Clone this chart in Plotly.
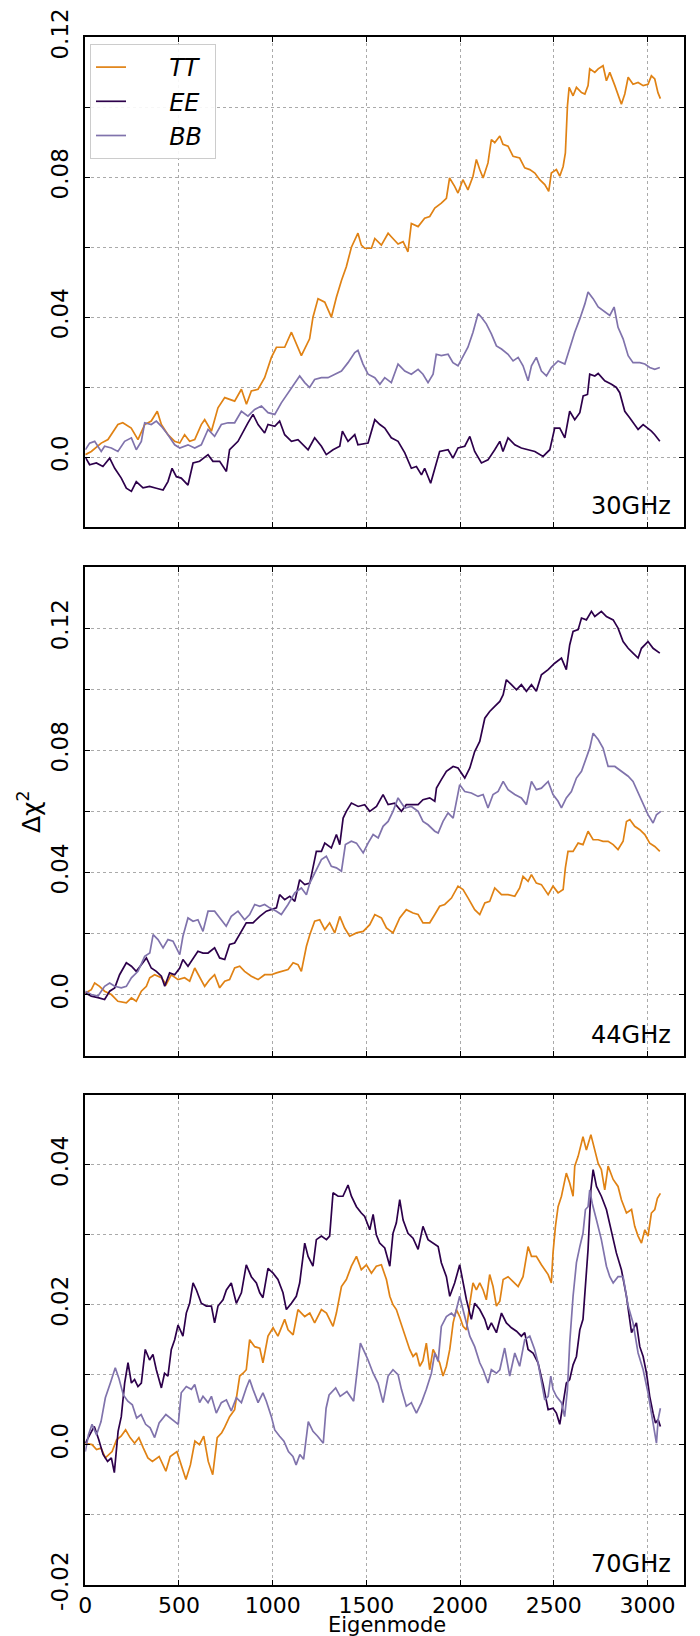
import plotly.graph_objects as go

# ---------------- data ----------------
# 30 GHz
modes_30_tt = [0,32,85,121,174,200,245,281,317,352,384,406,441,477,504,530,557,584,619,637,673,708,744,797,833,860,886,922,957,993,1020,1064,1100,1135,1153,1197,1215,1242,1278,1313,1340,1367,1393,1420,1455,1473,1491,1527,1545,1580,1616,1633,1669,1696,1722,1740,1776,1811,1838,1865,1900,1927,1944,1971,1989,2015,2042,2069,2087,2105,2123,2149,2167,2185,2212,2229,2256,2283,2318,2345,2372,2399,2425,2452,2473,2487,2514,2532,2550,2562,2573,2582,2603,2621,2648,2666,2683,2692,2719,2737,2763,2781,2799,2826,2843,2861,2879,2897,2923,2950,2977,3003,3021,3039,3056,3069]
dchi2_30_tt = [0.0007,0.0016,0.0040,0.0050,0.0093,0.0098,0.0083,0.0050,0.0093,0.0103,0.0131,0.0093,0.0064,0.0045,0.0040,0.0064,0.0045,0.0050,0.0093,0.0107,0.0074,0.0141,0.0170,0.0160,0.0194,0.0151,0.0189,0.0194,0.0227,0.0285,0.0314,0.0314,0.0357,0.0314,0.0290,0.0338,0.0400,0.0453,0.0443,0.0400,0.0457,0.0505,0.0544,0.0600,0.0640,0.0606,0.0597,0.0597,0.0625,0.0606,0.0640,0.0630,0.0609,0.0616,0.0587,0.0668,0.0659,0.0683,0.0688,0.0712,0.0726,0.0740,0.0798,0.0774,0.0755,0.0793,0.0764,0.0803,0.0851,0.0822,0.0798,0.0841,0.0908,0.0899,0.0918,0.0894,0.0889,0.0860,0.0855,0.0827,0.0822,0.0812,0.0793,0.0779,0.0760,0.0812,0.0822,0.0803,0.0831,0.0870,0.1004,0.1057,0.1033,0.1057,0.1042,0.1038,0.1062,0.1110,0.1100,0.1110,0.1119,0.1076,0.1100,0.1062,0.1033,0.1009,0.1038,0.1086,0.1066,0.1071,0.1062,0.1066,0.1090,0.1081,0.1042,0.1025]

modes_30_ee = [0,23,59,94,130,157,192,219,246,272,308,343,379,415,441,463,486,512,548,575,610,655,681,717,753,770,815,842,868,895,922,957,975,1011,1037,1064,1100,1135,1189,1224,1260,1286,1322,1358,1372,1402,1438,1455,1509,1545,1572,1598,1633,1669,1705,1740,1767,1794,1811,1843,1865,1891,1936,1962,1989,2025,2052,2078,2114,2149,2185,2212,2229,2256,2292,2327,2363,2399,2443,2479,2505,2532,2559,2585,2612,2639,2657,2680,2692,2719,2737,2772,2808,2834,2852,2879,2906,2932,2950,2977,3003,3021,3039,3066]
dchi2_30_ee = [0.0,-0.0022,-0.0017,-0.0027,-0.0003,-0.0032,-0.0060,-0.0089,-0.0098,-0.0070,-0.0088,-0.0084,-0.0089,-0.0094,-0.0070,-0.0032,-0.0056,-0.0060,-0.0080,-0.0017,-0.0012,0.0007,-0.0012,-0.0012,-0.0041,0.0021,0.0045,0.0074,0.0098,0.0122,0.0093,0.0069,0.0093,0.0088,0.0103,0.0064,0.0045,0.0050,0.0021,0.0055,0.0031,0.0007,0.0021,0.0031,0.0074,0.0045,0.0064,0.0035,0.0040,0.0107,0.0093,0.0083,0.0055,0.0045,0.0012,-0.0032,-0.0027,-0.0051,-0.0032,-0.0075,-0.0032,0.0016,0.0021,-0.0003,0.0026,0.0031,0.0059,0.0016,-0.0017,-0.0008,0.0021,0.0045,0.0016,0.0055,0.0035,0.0026,0.0021,0.0016,0.0002,0.0021,0.0083,0.0083,0.0055,0.0131,0.0107,0.0127,0.0175,0.0179,0.0237,0.0232,0.0239,0.0218,0.0208,0.0199,0.0184,0.0131,0.0112,0.0093,0.0079,0.0093,0.0083,0.0074,0.0064,0.0045]

modes_30_bb = [0,23,50,85,103,139,174,210,246,272,299,317,352,379,406,441,477,504,548,584,619,655,690,726,762,797,833,868,904,940,975,1011,1046,1082,1117,1144,1171,1197,1224,1260,1295,1331,1367,1402,1438,1455,1482,1509,1545,1572,1598,1633,1669,1705,1740,1776,1802,1829,1856,1873,1900,1936,1962,1989,2015,2042,2069,2096,2114,2140,2167,2194,2221,2256,2283,2310,2336,2363,2381,2407,2434,2461,2487,2523,2559,2585,2612,2639,2666,2683,2710,2737,2772,2799,2822,2843,2870,2897,2923,2959,2986,3012,3039,3066]
dchi2_30_bb = [0.0021,0.0040,0.0045,0.0016,0.0031,0.0026,0.0016,0.0045,0.0055,0.0021,0.0045,0.0098,0.0093,0.0103,0.0088,0.0064,0.0035,0.0026,0.0035,0.0026,0.0035,0.0079,0.0059,0.0093,0.0098,0.0098,0.0131,0.0117,0.0136,0.0146,0.0127,0.0122,0.0155,0.0184,0.0213,0.0232,0.0213,0.0199,0.0222,0.0227,0.0227,0.0237,0.0246,0.0270,0.0299,0.0305,0.0266,0.0237,0.0227,0.0208,0.0227,0.0213,0.0266,0.0246,0.0237,0.0251,0.0237,0.0213,0.0237,0.0294,0.0290,0.0294,0.0270,0.0261,0.0285,0.0314,0.0357,0.0410,0.0400,0.0381,0.0352,0.0318,0.0309,0.0294,0.0275,0.0285,0.0261,0.0218,0.0261,0.0285,0.0246,0.0232,0.0256,0.0275,0.0266,0.0314,0.0357,0.0395,0.0438,0.0472,0.0453,0.0429,0.0414,0.0405,0.0429,0.0371,0.0338,0.0290,0.0270,0.0270,0.0266,0.0256,0.0251,0.0256]

# 44 GHz
modes_44_tt = [0,32,50,76,103,139,174,219,246,272,299,326,344,370,406,432,459,495,530,557,584,610,637,664,690,717,744,770,797,824,850,886,922,957,993,1020,1055,1082,1109,1135,1153,1180,1198,1224,1251,1278,1304,1331,1358,1384,1411,1447,1483,1518,1545,1580,1607,1642,1678,1713,1749,1776,1802,1838,1865,1891,1918,1954,1989,2016,2043,2078,2105,2132,2158,2185,2221,2256,2292,2318,2336,2363,2381,2407,2434,2470,2496,2523,2550,2562,2576,2603,2630,2656,2683,2710,2737,2763,2790,2817,2843,2870,2888,2906,2932,2959,2986,3012,3039,3066]
dchi2_44_tt = [0.0005,0.0016,0.0038,0.0027,0.0011,0.0000,-0.0022,-0.0027,-0.0011,-0.0022,0.0011,0.0027,0.0055,0.0065,0.0055,0.0033,0.0065,0.0049,0.0055,0.0044,0.0087,0.0055,0.0027,0.0049,0.0065,0.0022,0.0044,0.0049,0.0087,0.0093,0.0076,0.0060,0.0049,0.0065,0.0065,0.0071,0.0076,0.0082,0.0104,0.0098,0.0076,0.0158,0.0196,0.0240,0.0245,0.0213,0.0235,0.0202,0.0256,0.0218,0.0191,0.0202,0.0207,0.0229,0.0262,0.0251,0.0218,0.0202,0.0251,0.0278,0.0267,0.0262,0.0235,0.0235,0.0262,0.0289,0.0295,0.0316,0.0355,0.0344,0.0316,0.0278,0.0262,0.0300,0.0305,0.0349,0.0327,0.0327,0.0322,0.0349,0.0387,0.0371,0.0393,0.0365,0.0360,0.0327,0.0355,0.0333,0.0344,0.0415,0.0469,0.0469,0.0496,0.0491,0.0535,0.0507,0.0507,0.0502,0.0502,0.0491,0.0475,0.0502,0.0567,0.0573,0.0551,0.0540,0.0524,0.0496,0.0485,0.0469]

modes_44_ee = [0,32,68,103,130,157,183,219,246,272,299,326,352,379,406,424,450,477,504,521,548,575,601,628,655,690,717,744,770,797,824,859,895,931,966,993,1020,1037,1064,1091,1118,1144,1171,1198,1233,1260,1278,1313,1340,1358,1376,1393,1420,1456,1491,1518,1554,1589,1616,1651,1687,1713,1740,1776,1802,1838,1865,1874,1900,1927,1963,1989,2025,2052,2078,2105,2132,2158,2185,2212,2230,2247,2274,2301,2327,2354,2381,2407,2434,2470,2505,2541,2567,2585,2603,2630,2648,2674,2701,2719,2754,2781,2817,2843,2870,2897,2923,2950,2968,3003,3030,3066]
dchi2_44_ee = [0.0005,-0.0005,-0.0010,-0.0016,0.0011,0.0022,0.0065,0.0104,0.0093,0.0076,0.0098,0.0120,0.0087,0.0076,0.0060,0.0027,0.0071,0.0065,0.0087,0.0115,0.0093,0.0120,0.0142,0.0136,0.0136,0.0153,0.0120,0.0115,0.0164,0.0169,0.0196,0.0235,0.0235,0.0256,0.0273,0.0278,0.0284,0.0327,0.0311,0.0322,0.0305,0.0376,0.0360,0.0365,0.0469,0.0469,0.0496,0.0480,0.0524,0.0491,0.0578,0.0600,0.0627,0.0616,0.0622,0.0600,0.0616,0.0655,0.0622,0.0627,0.0600,0.0622,0.0622,0.0622,0.0638,0.0644,0.0633,0.0676,0.0704,0.0731,0.0747,0.0742,0.0709,0.0742,0.0796,0.0829,0.0905,0.0927,0.0944,0.0960,0.0982,0.1031,0.1015,0.0998,0.1015,0.0993,0.1015,0.0993,0.1047,0.1064,0.1085,0.1102,0.1064,0.1145,0.1189,0.1195,0.1233,0.1227,0.1255,0.1238,0.1255,0.1238,0.1227,0.1200,0.1156,0.1134,0.1118,0.1102,0.1134,0.1156,0.1134,0.1118]

modes_44_bb = [0,32,68,103,130,157,192,219,246,281,317,344,362,388,415,441,468,504,521,548,575,601,628,655,690,726,752,779,815,850,877,904,931,957,984,1020,1046,1082,1118,1153,1180,1198,1224,1260,1286,1313,1340,1367,1388,1420,1447,1483,1509,1536,1563,1589,1616,1642,1669,1705,1740,1776,1802,1829,1865,1883,1909,1936,1963,1980,1998,2025,2060,2096,2123,2149,2176,2203,2230,2256,2292,2327,2354,2381,2407,2434,2470,2496,2523,2541,2567,2594,2621,2648,2674,2692,2710,2737,2763,2790,2826,2861,2897,2923,2950,2977,3003,3030,3048,3071]
dchi2_44_bb = [0.0011,0.0000,-0.0005,0.0027,0.0038,0.0027,0.0022,0.0027,0.0055,0.0076,0.0125,0.0136,0.0196,0.0180,0.0153,0.0180,0.0175,0.0131,0.0191,0.0251,0.0240,0.0245,0.0207,0.0273,0.0273,0.0245,0.0224,0.0256,0.0273,0.0245,0.0262,0.0295,0.0289,0.0295,0.0284,0.0273,0.0262,0.0295,0.0333,0.0349,0.0327,0.0365,0.0398,0.0442,0.0453,0.0420,0.0415,0.0404,0.0491,0.0502,0.0496,0.0464,0.0496,0.0524,0.0513,0.0551,0.0567,0.0600,0.0644,0.0611,0.0616,0.0600,0.0567,0.0556,0.0535,0.0529,0.0567,0.0595,0.0578,0.0633,0.0687,0.0665,0.0660,0.0649,0.0655,0.0611,0.0655,0.0665,0.0698,0.0671,0.0655,0.0644,0.0622,0.0698,0.0671,0.0676,0.0698,0.0655,0.0633,0.0611,0.0644,0.0665,0.0709,0.0731,0.0775,0.0807,0.0856,0.0835,0.0807,0.0747,0.0747,0.0731,0.0715,0.0698,0.0660,0.0622,0.0589,0.0562,0.0589,0.0600]

# 70 GHz
modes_70_tt = [0,36,60,84,107,143,167,191,215,239,263,286,310,334,358,394,430,453,489,513,537,561,585,609,632,656,680,704,728,744,770,797,824,842,859,877,904,931,948,975,1002,1028,1064,1082,1109,1135,1171,1198,1224,1260,1287,1322,1340,1367,1393,1420,1447,1473,1500,1527,1553,1580,1607,1625,1642,1660,1678,1696,1713,1731,1749,1767,1785,1802,1820,1838,1856,1874,1891,1909,1927,1945,1963,1980,1998,2016,2034,2052,2069,2087,2105,2123,2140,2158,2176,2194,2212,2230,2256,2283,2310,2336,2354,2363,2381,2407,2434,2452,2470,2487,2496,2509,2523,2541,2567,2585,2603,2612,2630,2656,2674,2698,2719,2737,2754,2772,2790,2817,2843,2861,2888,2915,2932,2950,2968,2986,3003,3021,3039,3053,3069]
dchi2_70_tt = [0.0002,0.0000,-0.0007,-0.0005,-0.0019,-0.0010,0.0007,0.0012,0.0021,0.0010,0.0002,0.0010,-0.0005,-0.0019,-0.0024,-0.0017,-0.0038,-0.0017,-0.0010,-0.0029,-0.0050,-0.0029,0.0005,0.0000,0.0012,-0.0024,-0.0043,0.0010,0.0017,0.0025,0.0040,0.0050,0.0098,0.0102,0.0107,0.0150,0.0140,0.0138,0.0117,0.0155,0.0167,0.0155,0.0179,0.0164,0.0157,0.0193,0.0183,0.0188,0.0174,0.0193,0.0188,0.0169,0.0188,0.0226,0.0236,0.0255,0.0269,0.0250,0.0257,0.0245,0.0255,0.0257,0.0236,0.0212,0.0200,0.0193,0.0179,0.0164,0.0150,0.0136,0.0126,0.0131,0.0112,0.0120,0.0145,0.0107,0.0136,0.0126,0.0117,0.0098,0.0112,0.0136,0.0174,0.0193,0.0183,0.0169,0.0164,0.0202,0.0231,0.0221,0.0231,0.0221,0.0207,0.0243,0.0226,0.0198,0.0205,0.0236,0.0240,0.0233,0.0226,0.0240,0.0267,0.0283,0.0269,0.0269,0.0257,0.0250,0.0243,0.0231,0.0274,0.0312,0.0340,0.0355,0.0388,0.0374,0.0355,0.0398,0.0412,0.0440,0.0421,0.0443,0.0421,0.0402,0.0393,0.0364,0.0398,0.0379,0.0369,0.0350,0.0331,0.0336,0.0312,0.0298,0.0288,0.0307,0.0298,0.0331,0.0336,0.0352,0.0359]

modes_70_ee = [0,24,48,72,95,119,139,155,175,192,210,228,246,263,281,299,320,343,361,379,406,423,441,459,477,495,521,539,557,575,593,619,646,673,690,708,735,753,779,806,833,859,886,913,931,948,975,1002,1028,1055,1073,1100,1126,1144,1171,1189,1215,1233,1260,1287,1304,1322,1349,1375,1402,1420,1447,1473,1491,1518,1536,1553,1571,1598,1625,1642,1660,1678,1696,1722,1749,1776,1802,1829,1856,1883,1900,1927,1945,1971,1998,2016,2034,2060,2078,2105,2132,2149,2167,2194,2221,2247,2274,2301,2327,2345,2363,2389,2416,2443,2470,2496,2514,2532,2550,2567,2585,2603,2621,2639,2656,2674,2683,2698,2710,2728,2754,2781,2808,2834,2861,2888,2915,2941,2959,2977,2995,3012,3030,3043,3057,3069]
dchi2_70_ee = [0.0002,0.0014,0.0026,0.0007,-0.0014,-0.0024,-0.0019,-0.0040,0.0019,0.0040,0.0088,0.0117,0.0088,0.0093,0.0083,0.0088,0.0136,0.0121,0.0129,0.0107,0.0081,0.0102,0.0098,0.0136,0.0150,0.0171,0.0155,0.0188,0.0202,0.0231,0.0221,0.0202,0.0198,0.0198,0.0174,0.0198,0.0207,0.0221,0.0231,0.0202,0.0217,0.0257,0.0240,0.0231,0.0217,0.0210,0.0252,0.0245,0.0236,0.0217,0.0193,0.0202,0.0212,0.0231,0.0288,0.0269,0.0255,0.0293,0.0298,0.0293,0.0298,0.0360,0.0355,0.0355,0.0371,0.0355,0.0340,0.0331,0.0326,0.0307,0.0329,0.0300,0.0288,0.0281,0.0255,0.0302,0.0317,0.0350,0.0321,0.0302,0.0295,0.0279,0.0312,0.0293,0.0288,0.0283,0.0260,0.0240,0.0212,0.0231,0.0257,0.0231,0.0207,0.0179,0.0202,0.0193,0.0179,0.0164,0.0174,0.0160,0.0188,0.0174,0.0167,0.0162,0.0155,0.0160,0.0136,0.0131,0.0117,0.0086,0.0050,0.0052,0.0045,0.0029,0.0060,0.0088,0.0093,0.0114,0.0126,0.0164,0.0179,0.0240,0.0279,0.0364,0.0393,0.0369,0.0355,0.0336,0.0302,0.0274,0.0250,0.0212,0.0160,0.0174,0.0140,0.0126,0.0102,0.0069,0.0045,0.0031,0.0036,0.0026]

modes_70_bb = [0,17,36,60,84,107,136,160,179,203,227,251,274,298,322,346,370,394,430,465,496,512,539,566,584,610,628,655,673,699,726,753,779,806,833,859,877,895,922,948,966,993,1011,1037,1060,1084,1108,1125,1145,1165,1190,1215,1240,1270,1285,1301,1336,1360,1396,1432,1468,1492,1509,1536,1562,1589,1616,1642,1669,1687,1713,1740,1767,1794,1820,1847,1865,1883,1900,1927,1954,1971,1998,2025,2052,2078,2105,2123,2149,2167,2194,2212,2238,2265,2292,2318,2345,2372,2398,2416,2434,2452,2470,2484,2496,2514,2541,2558,2573,2585,2603,2621,2639,2656,2669,2683,2692,2705,2728,2754,2781,2799,2817,2843,2870,2897,2923,2950,2977,3003,3021,3035,3048,3057,3069]
dchi2_70_bb = [-0.0010,0.0014,0.0029,0.0014,0.0033,0.0067,0.0090,0.0110,0.0095,0.0071,0.0062,0.0057,0.0038,0.0043,0.0029,0.0024,0.0010,0.0031,0.0043,0.0036,0.0029,0.0074,0.0083,0.0079,0.0086,0.0060,0.0069,0.0060,0.0069,0.0045,0.0060,0.0064,0.0048,0.0067,0.0060,0.0081,0.0093,0.0079,0.0060,0.0074,0.0062,0.0040,0.0021,0.0012,0.0005,-0.0010,-0.0017,-0.0029,-0.0014,-0.0021,0.0033,0.0019,0.0012,0.0002,0.0052,0.0071,0.0081,0.0069,0.0076,0.0062,0.0145,0.0131,0.0121,0.0102,0.0088,0.0060,0.0098,0.0107,0.0100,0.0079,0.0055,0.0060,0.0045,0.0060,0.0079,0.0102,0.0131,0.0119,0.0169,0.0183,0.0188,0.0183,0.0212,0.0183,0.0155,0.0140,0.0117,0.0107,0.0088,0.0107,0.0102,0.0107,0.0138,0.0098,0.0131,0.0112,0.0150,0.0155,0.0136,0.0117,0.0088,0.0064,0.0069,0.0098,0.0079,0.0069,0.0060,0.0040,0.0079,0.0145,0.0212,0.0260,0.0283,0.0302,0.0336,0.0340,0.0364,0.0345,0.0321,0.0293,0.0255,0.0240,0.0231,0.0240,0.0240,0.0198,0.0174,0.0131,0.0107,0.0074,0.0045,0.0021,0.0002,0.0036,0.0052]

spectra = ["TT", "EE", "BB"]
bands = ["30GHz", "44GHz", "70GHz"]
x_ticks = [0, 500, 1000, 1500, 2000, 2500, 3000]
y_grid_30 = [-0.02, 0.0, 0.02, 0.04, 0.06, 0.08, 0.10, 0.12]
y_lbl_30 = ["", "0.0", "", "0.04", "", "0.08", "", "0.12"]
y_grid_44 = [-0.02, 0.0, 0.02, 0.04, 0.06, 0.08, 0.10, 0.12, 0.14]
y_lbl_44 = ["", "0.0", "", "0.04", "", "0.08", "", "0.12", ""]
y_grid_70 = [-0.02, -0.01, 0.0, 0.01, 0.02, 0.03, 0.04, 0.05]
y_lbl_70 = ["-0.02", "", "0.0", "", "0.02", "", "0.04", ""]

series = {
    "30GHz": {"TT": (modes_30_tt, dchi2_30_tt), "EE": (modes_30_ee, dchi2_30_ee), "BB": (modes_30_bb, dchi2_30_bb)},
    "44GHz": {"TT": (modes_44_tt, dchi2_44_tt), "EE": (modes_44_ee, dchi2_44_ee), "BB": (modes_44_bb, dchi2_44_bb)},
    "70GHz": {"TT": (modes_70_tt, dchi2_70_tt), "EE": (modes_70_ee, dchi2_70_ee), "BB": (modes_70_bb, dchi2_70_bb)},
}

# ---------------- styling ----------------
colors = {"TT": "#e08214", "EE": "#2d004b", "BB": "#8073ac"}
FONT = "DejaVu Sans"
W, H = 700, 1636
x_dom = [77.3 / W, 676.0 / W]
panel_px = [(29.3, 519.1), (559.0, 1047.7), (1086.7, 1576.7)]  # top, bottom
y_ranges = [[-0.02002, 0.12002], [-0.02002, 0.14002], [-0.02002, 0.05001]]
y_grids = [(y_grid_30, y_lbl_30), (y_grid_44, y_lbl_44), (y_grid_70, y_lbl_70)]
NB = "\u00a0"

fig = go.Figure()
for i, band in enumerate(bands):
    xa = "x" if i == 0 else f"x{i+1}"
    ya = "y" if i == 0 else f"y{i+1}"
    for s in spectra:
        mx, vy = series[band][s]
        n = min(len(mx), len(vy))
        fig.add_trace(go.Scatter(
            x=mx[:n], y=vy[:n], mode="lines", name=NB * 5 + f"<i>{s}</i>" + NB,
            line=dict(color=colors[s], width=1.7),
            xaxis=xa, yaxis=ya, showlegend=(i == 0),
        ))

layout = dict(
    width=W, height=H, margin=dict(l=0, r=0, t=0, b=0, autoexpand=False),
    paper_bgcolor="white", plot_bgcolor="white",
    font=dict(family=FONT, color="black"),
    showlegend=True,
    legend=dict(x=82 / W, y=1 - 36 / H, xanchor="left", yanchor="top",
                bgcolor="rgba(255,255,255,0.9)", bordercolor="#cccccc", borderwidth=1,
                font=dict(family=FONT, size=24, color="black")),
)

axis_common = dict(
    showline=True, linecolor="black", linewidth=1.5, mirror="allticks",
    ticks="inside", ticklen=5, tickwidth=1, tickcolor="black",
    showgrid=True, gridcolor="#aaaaaa", gridwidth=1, griddash="dot",
    zeroline=False, automargin=False,
)

for i in range(3):
    top, bot = panel_px[i]
    xkey = "xaxis" if i == 0 else f"xaxis{i+1}"
    ykey = "yaxis" if i == 0 else f"yaxis{i+1}"
    yanchor = "y" if i == 0 else f"y{i+1}"
    xanchor = "x" if i == 0 else f"x{i+1}"
    layout[xkey] = dict(axis_common, domain=x_dom, range=[0, 3195], anchor=yanchor,
                        tickmode="array", tickvals=x_ticks, ticktext=[str(t) for t in x_ticks],
                        showticklabels=(i == 2),
                        tickfont=dict(family=FONT, size=22, color="black"))
    gv, gl = y_grids[i]
    layout[ykey] = dict(axis_common, domain=[1 - bot / H, 1 - top / H], range=y_ranges[i],
                        anchor=xanchor, tickmode="array", tickvals=gv, ticktext=gl,
                        tickangle=-90, ticklabelstandoff=6,
                        tickfont=dict(family=FONT, size=23, color="black"))

fig.update_layout(**layout)

annos = []
label_y = [498, 1027, 1556]
for band, yc in zip(bands, label_y):
    annos.append(dict(text=band, x=665 / W, y=1 - yc / H, xref="paper", yref="paper",
                      xanchor="right", yanchor="middle", showarrow=False,
                      font=dict(family=FONT, size=24, color="black")))
annos.append(dict(text="Δχ<sup>2</sup>", x=21 / W, y=1 - 804 / H, xref="paper", yref="paper",
                  xanchor="center", yanchor="middle", textangle=-90, showarrow=False,
                  font=dict(family=FONT, size=25, color="black")))
annos.append(dict(text="Eigenmode", x=379 / W, y=1 - 1617 / H, xref="paper", yref="paper",
                  xanchor="center", yanchor="middle", showarrow=False,
                  font=dict(family=FONT, size=21, color="black")))
fig.update_layout(annotations=annos)

fig.write_html("out.html")
